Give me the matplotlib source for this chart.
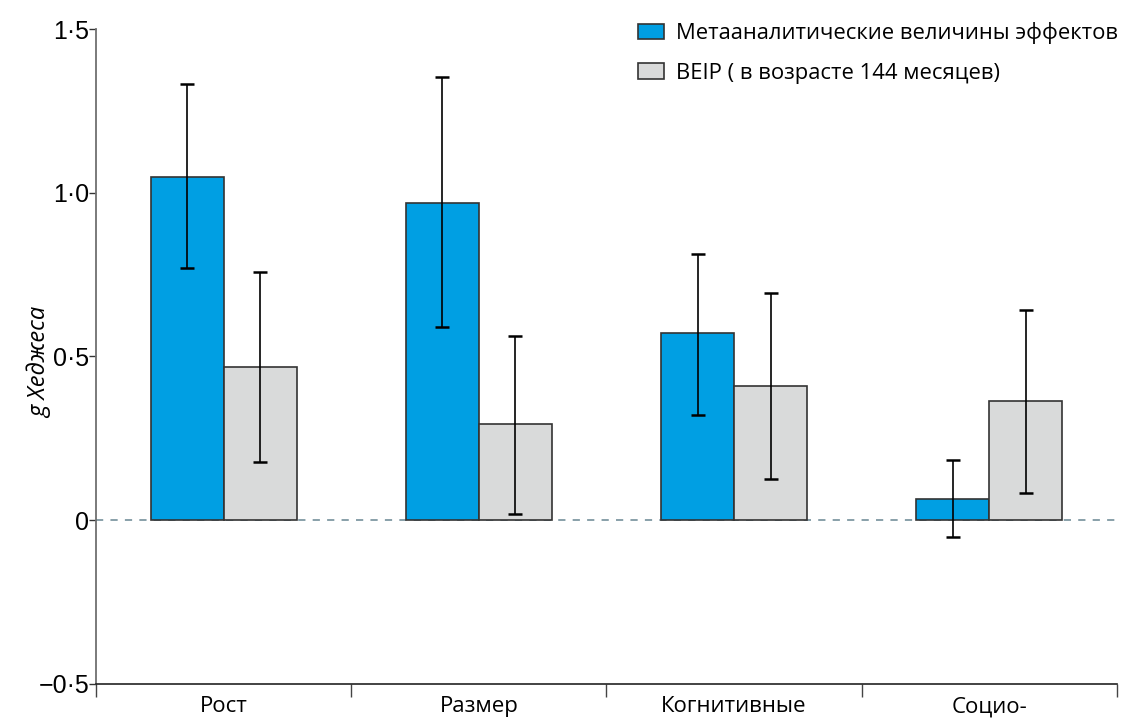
import matplotlib.pyplot as plt
import numpy as np

CATEGORIES = ["Рост", "Размер", "Когнитивные", "Социо-"]
SERIES_NAMES = ["Метааналитические величины эффектов", "BEIP ( в возрасте 144 месяцев)"]

meta_values = [1.047, 0.970, 0.572, 0.064]
meta_upper = [1.331, 1.353, 0.814, 0.184]
meta_lower = [0.771, 0.591, 0.321, -0.052]

beip_values = [0.468, 0.294, 0.410, 0.364]
beip_upper = [0.759, 0.563, 0.695, 0.643]
beip_lower = [0.178, 0.018, 0.125, 0.083]

Y_TICKS = [-0.5, 0, 0.5, 1.0, 1.5]
Y_TICK_LABELS = ["\u22120\u00b75", "0", "0\u00b75", "1\u00b70", "1\u00b75"]

COLORS = ["#009fe3", "#d9dada"]


def main():
    fig = plt.figure(figsize=(11.22, 7.18), dpi=100)
    ax = fig.add_axes([0.0856, 0.0474, 0.9099, 0.9122])

    x_pos = np.arange(len(CATEGORIES))
    bar_width = 0.286

    series = [
        (meta_values, meta_upper, meta_lower),
        (beip_values, beip_upper, beip_lower),
    ]
    offsets = [-bar_width / 2, bar_width / 2]

    for i, (vals, up, lo) in enumerate(series):
        vals = np.array(vals)
        yerr = [vals - np.array(lo), np.array(up) - vals]
        ax.bar(x_pos + offsets[i], vals, bar_width, color=COLORS[i],
               edgecolor="#333333", linewidth=1.2, label=SERIES_NAMES[i],
               zorder=2)
        ax.errorbar(x_pos + offsets[i], vals, yerr=yerr, fmt="none",
                    ecolor="black", elinewidth=1.2, capsize=4.8,
                    capthick=1.8, zorder=3)

    # dashed zero line
    ax.axhline(0, color="#7f98a3", linestyle=(0, (4, 4)), linewidth=1.3,
               zorder=1)

    ax.set_xlim(-0.5, len(CATEGORIES) - 0.5)
    ax.set_ylim(-0.5, 1.5)

    ax.spines["top"].set_visible(False)
    ax.spines["right"].set_visible(False)
    ax.spines["left"].set_color("#707070")
    ax.spines["left"].set_linewidth(1.3)
    ax.spines["bottom"].set_color("#222222")
    ax.spines["bottom"].set_linewidth(1.2)

    ax.set_yticks(Y_TICKS)
    ax.set_yticklabels(Y_TICK_LABELS, fontfamily="Liberation Sans",
                       fontsize=18)
    ax.tick_params(axis="y", direction="out", length=5, width=1,
                   color="#333333", pad=0)

    ax.set_xticks(x_pos)
    ax.set_xticklabels(CATEGORIES, fontfamily="Open Sans", fontsize=16)
    ax.tick_params(axis="x", which="major", length=0, pad=9)
    ax.set_xticks(np.arange(-0.5, len(CATEGORIES)), minor=True)
    ax.tick_params(axis="x", which="minor", direction="out", length=9,
                   width=1, color="#444444")

    fig.text(40 / 1122, 1 - 362 / 718, "g Хеджеса", fontfamily="Open Sans",
             fontstyle="italic", fontsize=17, rotation=90,
             ha="center", va="center")

    leg = fig.legend(loc="upper right",
                     bbox_to_anchor=(1118 / 1122, 1 - 22 / 718),
                     frameon=False, prop={"family": "Open Sans", "size": 15.8},
                     handlelength=1.2, handleheight=0.7, handletextpad=0.55,
                     labelspacing=0.85, borderaxespad=0, borderpad=0)
    for h in leg.legend_handles:
        h.set_edgecolor("#333333")

    fig.savefig("out.png", dpi=100)


if __name__ == "__main__":
    main()
